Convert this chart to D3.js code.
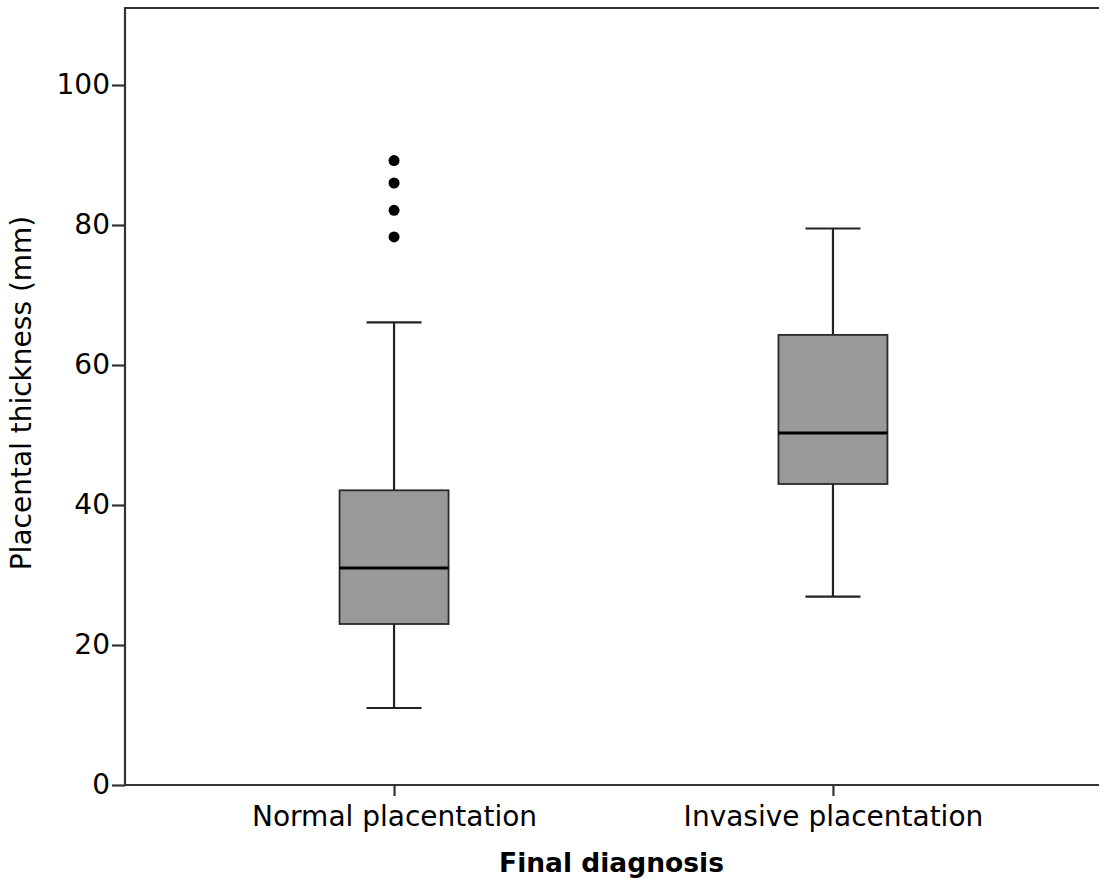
<!DOCTYPE html>
<meta charset="utf-8">
<head>
  <title>Placental thickness boxplot</title>
  <style>
    body { margin: 0; background: #fff; }
    text { font-family: "DejaVu Sans", Verdana, sans-serif; fill: #000; }
  </style>
</head>
<script src="https://d3js.org/d3.v7.min.js"></script>
<div id="chart"></div>
<script>

// data (mm)
var groups = ["Normal placentation", "Invasive placentation"];
var whiskerLow  = [11.0, 26.9];
var quartile1   = [23.0, 43.0];
var medians     = [31.0, 50.3];
var quartile3   = [42.1, 64.3];
var whiskerHigh = [66.1, 79.5];
var outliers    = [[78.3, 82.1, 86.0, 89.2], []];
var yTicks = [0, 20, 40, 60, 80, 100];

var W = 1099, H = 886;
var m = {left: 125, top: 8, right: 1102, bottom: 785};

var svg = d3.select("#chart").append("svg")
  .attr("width", W)
  .attr("height", H);

var x = d3.scalePoint()
  .domain(groups)
  .range([m.left, m.right])
  .padding(0.613);

var y = d3.scaleLinear()
  .domain([0, 111])
  .range([m.bottom, m.top]);

// frame (right side runs off the picture)
svg.append("path")
  .attr("d", "M" + W + "," + m.top + "H" + m.left + "V" + m.bottom + "H" + W)
  .attr("fill", "none")
  .attr("stroke", "#333")
  .attr("stroke-width", 2.2);

// y axis
var yAxis = svg.append("g")
  .attr("transform", "translate(" + m.left + ",0)")
  .call(d3.axisLeft(y).tickValues(yTicks).tickSize(13).tickPadding(2));
yAxis.select(".domain").remove();
yAxis.selectAll("line").attr("stroke", "#333").attr("stroke-width", 2.2);
yAxis.selectAll("text").style("font-size", "28px").attr("fill", "#000")
  .style("font-family", "'DejaVu Sans', sans-serif");

// x axis
var xAxis = svg.append("g")
  .attr("transform", "translate(0," + m.bottom + ")")
  .call(d3.axisBottom(x).tickSize(11).tickPadding(10));
xAxis.select(".domain").remove();
xAxis.selectAll("line").attr("stroke", "#333").attr("stroke-width", 2.2);
xAxis.selectAll("text").style("font-size", "28px").attr("fill", "#000")
  .style("font-family", "'DejaVu Sans', sans-serif");

var boxW = 109, capW = 55;

groups.forEach(function(g, i) {
  var cx = x(g);
  var grp = svg.append("g");

  // whiskers
  grp.append("line")
    .attr("x1", cx).attr("x2", cx)
    .attr("y1", y(whiskerHigh[i])).attr("y2", y(quartile3[i]))
    .attr("stroke", "#222").attr("stroke-width", 2.2);
  grp.append("line")
    .attr("x1", cx).attr("x2", cx)
    .attr("y1", y(quartile1[i])).attr("y2", y(whiskerLow[i]))
    .attr("stroke", "#222").attr("stroke-width", 2.2);
  [whiskerHigh[i], whiskerLow[i]].forEach(function(v) {
    grp.append("line")
      .attr("x1", cx - capW / 2).attr("x2", cx + capW / 2)
      .attr("y1", y(v)).attr("y2", y(v))
      .attr("stroke", "#222").attr("stroke-width", 2.2);
  });

  // box
  grp.append("rect")
    .attr("x", cx - boxW / 2)
    .attr("y", y(quartile3[i]))
    .attr("width", boxW)
    .attr("height", y(quartile1[i]) - y(quartile3[i]))
    .attr("fill", "#999999")
    .attr("stroke", "#2a2a2a")
    .attr("stroke-width", 1.8);

  // median
  grp.append("line")
    .attr("x1", cx - boxW / 2).attr("x2", cx + boxW / 2)
    .attr("y1", y(medians[i])).attr("y2", y(medians[i]))
    .attr("stroke", "#000").attr("stroke-width", 3);

  // outliers
  grp.selectAll("circle")
    .data(outliers[i])
    .enter().append("circle")
    .attr("cx", cx)
    .attr("cy", function(d) { return y(d); })
    .attr("r", 5.5)
    .attr("fill", "#000");
});

// axis titles
svg.append("text")
  .attr("x", (m.left + m.right) / 2 - 2)
  .attr("y", 872)
  .attr("text-anchor", "middle")
  .style("font-size", "26.5px")
  .style("font-weight", "bold")
  .text("Final diagnosis");

svg.append("text")
  .attr("transform", "translate(31," + 393 + ") rotate(-90)")
  .attr("text-anchor", "middle")
  .style("font-size", "28px")
  .text("Placental thickness (mm)");

</script>
